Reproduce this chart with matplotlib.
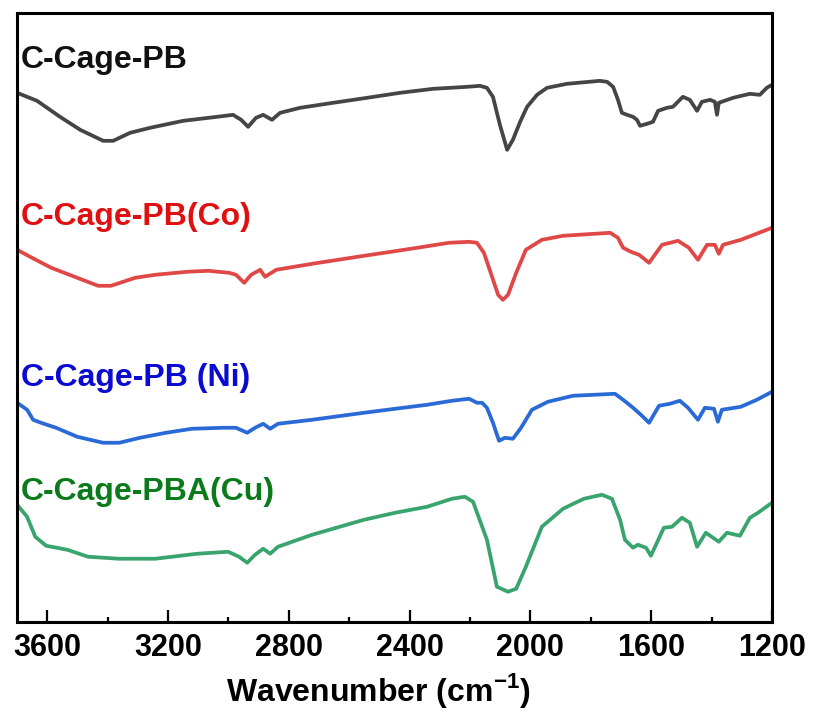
"""FTIR spectra of the C-Cage-PB series, stacked traces with inline labels."""
import numpy as np
import matplotlib
matplotlib.use("Agg")
import matplotlib.pyplot as plt

plt.rcParams["font.family"] = ["Liberation Sans", "DejaVu Sans"]
plt.rcParams["font.weight"] = "bold"
plt.rcParams["mathtext.fontset"] = "custom"
plt.rcParams["mathtext.rm"] = "Liberation Sans:bold"
plt.rcParams["mathtext.bf"] = "Liberation Sans:bold"

# Transmittance traces (a.u., already offset for stacking).
wn_pb = [3700, 3634, 3558, 3491, 3415, 3382, 3326, 3260, 3150, 3038, 2985, 2958,
         2935, 2909, 2885, 2856, 2829, 2763, 2654, 2541, 2432, 2322, 2210, 2167,
         2144, 2124, 2101, 2077, 2058, 2034, 2011, 1978, 1945, 1879, 1770, 1746,
         1726, 1710, 1697, 1680, 1660, 1647, 1637, 1614, 1594, 1577, 1548, 1528,
         1495, 1472, 1448, 1432, 1405, 1389, 1382, 1376, 1329, 1273, 1240, 1217, 1200]
t_pb = [529, 521, 505, 492, 481, 481, 489, 494, 501, 505, 507, 502,
        495, 504, 507, 502, 509, 514, 519, 524, 529, 533, 535, 536,
        534, 525, 497, 472, 482, 500, 515, 527, 534, 538, 541, 540,
        535, 522, 509, 507, 505, 502, 496, 498, 500, 511, 514, 515,
        525, 522, 511, 520, 522, 520, 507, 519, 524, 528, 527, 534, 537]

wn_co = [3700, 3657, 3587, 3501, 3432, 3389, 3309, 3243, 3137, 3068, 2998, 2975,
         2948, 2925, 2895, 2879, 2842, 2723, 2551, 2462, 2375, 2270, 2203, 2177,
         2154, 2127, 2107, 2091, 2074, 2047, 2015, 1962, 1892, 1736, 1710, 1693,
         1667, 1640, 1607, 1564, 1511, 1475, 1445, 1415, 1389, 1376, 1362, 1303,
         1260, 1200]
t_co = [372, 365, 354, 344, 336, 336, 344, 347, 350, 351, 349, 347,
        339, 347, 352, 345, 352, 358, 366, 370, 374, 379, 380, 379,
        369, 345, 327, 322, 327, 349, 372, 382, 386, 389, 384, 374,
        370, 367, 359, 377, 381, 374, 362, 377, 377, 368, 377, 382,
        387, 394]

wn_ni = [3700, 3667, 3647, 3621, 3571, 3501, 3415, 3362, 3293, 3207, 3121, 3018,
         2975, 2938, 2912, 2885, 2862, 2836, 2723, 2551, 2448, 2342, 2260, 2203,
         2177, 2160, 2144, 2124, 2104, 2084, 2058, 2031, 1995, 1942, 1859, 1720,
         1693, 1660, 1634, 1607, 1574, 1538, 1505, 1478, 1445, 1422, 1392, 1379,
         1366, 1303, 1250, 1200]
t_ni = [219, 212, 202, 199, 194, 185, 179, 179, 184, 189, 193, 194,
        194, 189, 194, 198, 193, 198, 202, 209, 213, 217, 221, 223,
        219, 219, 214, 199, 181, 184, 183, 194, 212, 220, 226, 228,
        222, 214, 207, 199, 216, 218, 221, 214, 202, 214, 213, 200,
        212, 215, 222, 230]

wn_cu = [3700, 3667, 3640, 3604, 3534, 3465, 3362, 3243, 3104, 3001, 2965, 2938,
         2912, 2885, 2862, 2836, 2723, 2551, 2448, 2342, 2260, 2217, 2190, 2144,
         2111, 2074, 2047, 2015, 1962, 1892, 1823, 1763, 1730, 1703, 1687, 1660,
         1644, 1617, 1601, 1558, 1531, 1498, 1472, 1448, 1419, 1376, 1349, 1306,
         1273, 1246, 1200]
t_cu = [117, 105, 85, 76, 72, 65, 63, 63, 68, 70, 65, 59,
        67, 73, 68, 75, 87, 102, 109, 115, 123, 125, 120, 82,
        35, 30, 33, 55, 95, 113, 123, 127, 123, 102, 82, 74,
        77, 74, 66, 94, 95, 104, 99, 75, 89, 80, 89, 86,
        104, 109, 119]

names = ["C-Cage-PB", "C-Cage-PB(Co)", "C-Cage-PB (Ni)", "C-Cage-PBA(Cu)"]
line_colors = ["#454545", "#e04848", "#2a6ad6", "#3aa46e"]
text_colors = ["#111111", "#e01010", "#0a0ad0", "#0a7a1a"]
label_y = [562, 405, 244, 130]

fig = plt.figure(figsize=(8.16, 7.13), dpi=100)
ax = fig.add_axes([0.021, 0.128, 0.925, 0.854])

series = [(wn_pb, t_pb), (wn_co, t_co), (wn_ni, t_ni), (wn_cu, t_cu)]
for (wn, t), name, lc, tc, ly in zip(series, names, line_colors, text_colors, label_y):
    ax.plot(wn, t, color=lc, lw=2.7, solid_joinstyle="round")
    ax.text(3688, ly, name, color=tc, fontsize=23, fontweight="bold",
            ha="left", va="center")

ax.set_xlim(3700, 1200)
ax.set_ylim(0, 609)
ax.set_xticks(np.arange(3600, 1199, -400))
ax.set_xticks(np.arange(3400, 1199, -400), minor=True)
ax.set_yticks([])
ax.tick_params(axis="x", which="major", direction="in", length=8.5, width=1.6,
               labelsize=22, pad=8)
ax.tick_params(axis="x", which="minor", direction="in", length=3.8, width=1.6)
for s in ax.spines.values():
    s.set_linewidth(2.2)
for lab in ax.get_xticklabels():
    lab.set_fontweight("bold")
ax.set_xlabel(r"Wavenumber (cm$^{-1}$)", fontsize=23, fontweight="bold", labelpad=6)
ax.xaxis.label.set_position((0.478, 0))  # sits a little left of centre in the original

fig.savefig("out.png", dpi=100)
